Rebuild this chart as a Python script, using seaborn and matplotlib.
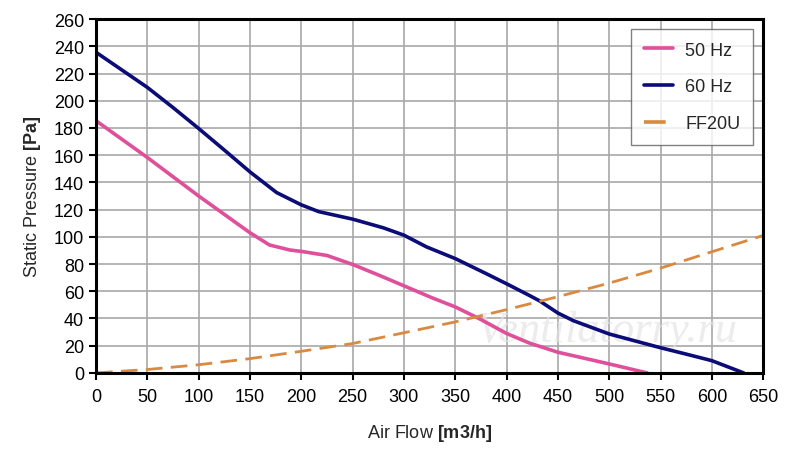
import numpy as np
import pandas as pd
import seaborn as sns
import matplotlib.pyplot as plt

# values
flow_50 = [0, 50, 100, 150, 169, 189, 200, 225, 250, 275, 300, 328, 350, 373,
           400, 422, 450, 500, 537]
pres_50 = [185.3, 158.3, 130, 103, 94, 90.3, 89.3, 86.3, 79.7, 72, 64, 55, 48.5, 40,
           29, 22, 15.2, 6.6, 0]

flow_60 = [0, 50, 75, 100, 124, 150, 176, 200, 217, 250, 280, 300, 322, 350,
           380, 400, 422, 432, 450, 465, 500, 550, 574, 600, 631]
pres_60 = [235.6, 209.8, 195, 179.6, 164.4, 147.7, 132.5, 123.5, 118.5, 113, 106.6,
           101.2, 92.6, 84, 73, 65.5, 57, 53, 44, 38.4, 28.6, 18.5, 14, 9, 0]

flow_ff = [0, 50, 100, 150, 200, 250, 300, 350, 400, 450, 500, 550, 600, 650]
pres_ff = [0, 2.5, 6, 10.5, 15.9, 21.6, 29.5, 37.5, 46.5, 56, 66, 77, 89, 101]

df = pd.concat([
    pd.DataFrame({'flow': flow_50, 'pres': pres_50, 'curve': '50 Hz'}),
    pd.DataFrame({'flow': flow_60, 'pres': pres_60, 'curve': '60 Hz'}),
    pd.DataFrame({'flow': flow_ff, 'pres': pres_ff, 'curve': 'FF20U'}),
])

sns.set_style('white')
plt.rcParams['font.family'] = ['Liberation Sans', 'DejaVu Sans']
plt.rcParams['mathtext.fontset'] = 'custom'
plt.rcParams['mathtext.bf'] = 'Liberation Sans:bold'
plt.rcParams['mathtext.rm'] = 'Liberation Sans'

fig = plt.figure(figsize=(8, 4.56), dpi=100)
ax = fig.add_axes([0.12, 0.18, 0.834, 0.776])

palette = {'50 Hz': '#e0509a', '60 Hz': '#0c0c78', 'FF20U': '#d98a40'}
dashes = {'50 Hz': '', '60 Hz': '', 'FF20U': (6, 3)}
sns.lineplot(data=df, x='flow', y='pres', hue='curve', style='curve',
             palette=palette, dashes=dashes, linewidth=2.6, ax=ax, sort=False)
for ln in ax.lines:
    ln.set_solid_joinstyle('round')
ax.lines[2].set_linewidth(2.0)

ax.set_xlim(0, 650)
ax.set_ylim(0, 260)
ax.set_xticks(np.arange(0, 651, 50))
ax.set_yticks(np.arange(0, 261, 20))
ax.grid(True, color='#a8a8a8', linewidth=1.2)
ax.set_axisbelow(True)
for s in ax.spines.values():
    s.set_color('black')
    s.set_linewidth(2.2)
ax.tick_params(axis='both', direction='out', length=5, width=1.5,
               labelsize=13, colors='black', bottom=True, left=True)
ax.tick_params(axis='x', pad=6)

ax.set_xlabel(r'Air Flow $\mathbf{[m3/h]}$', fontsize=13, labelpad=12)
ax.set_ylabel(r'Static Pressure $\mathbf{[Pa]}$', fontsize=13, labelpad=8)

leg = ax.legend(title=None, loc='upper right', fontsize=13, frameon=True,
                fancybox=False, edgecolor='#606060', borderpad=0.7,
                labelspacing=1.1, handlelength=1.6, handletextpad=0.7,
                borderaxespad=0, bbox_to_anchor=(0.985, 0.972))
leg.get_frame().set_linewidth(1.0)

ax.text(0.766, 0.12, 'Ventilatorry.ru', transform=ax.transAxes, fontsize=32,
        style='italic', family='Liberation Serif', color='#e4e4e4', alpha=0.7,
        ha='center', va='center', zorder=1)

fig.savefig('out.png', dpi=100, facecolor='white')
